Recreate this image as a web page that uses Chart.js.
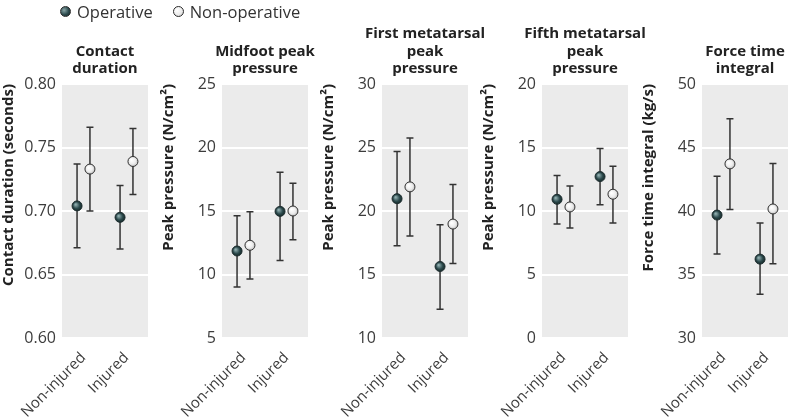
<!DOCTYPE html>
<html>
<head>
<meta charset="utf-8">
<script src="https://cdn.jsdelivr.net/npm/chart.js@4.4.1/dist/chart.umd.min.js"></script>
<style>
  body { margin: 0; background: #fff; width: 790px; height: 418px; overflow: hidden; position: relative; font-family: "Open Sans", sans-serif; }
  .panel { position: absolute; top: 0; width: 180px; height: 418px; }
  #legend { position: absolute; top: 0; left: 60px; font-size: 16.5px; color: #333; line-height: 24px; z-index: 2; }
  #legend span.item { margin-right: 20px; }
  .dot { display: inline-block; width: 9px; height: 9px; border-radius: 50%; border: 1px solid #2a2a2a; margin-right: 6px; vertical-align: 1px; }
  .op { background: radial-gradient(circle at 35% 35%, #8aa6a7, #2c4a4d 55%, #14272a); }
  .nonop { background: radial-gradient(circle at 35% 35%, #ffffff, #ececec 55%, #bdbdbd); }
</style>
</head>
<body>
<div id="legend"><span class="item"><span class="dot op"></span>Operative</span><span class="item"><span class="dot nonop"></span>Non-operative</span></div>
<div class="panel" style="left:0px"><canvas id="c0" width="180" height="418"></canvas></div>
<div class="panel" style="left:160px"><canvas id="c1" width="180" height="418"></canvas></div>
<div class="panel" style="left:320px"><canvas id="c2" width="180" height="418"></canvas></div>
<div class="panel" style="left:480px"><canvas id="c3" width="180" height="418"></canvas></div>
<div class="panel" style="left:640px"><canvas id="c4" width="180" height="418"></canvas></div>
<script>
const categories = ["Non-injured", "Injured"];
const panelTitles = [
  ["Contact", "duration"],
  ["Midfoot peak", "pressure"],
  ["First metatarsal", "peak", "pressure"],
  ["Fifth metatarsal", "peak", "pressure"],
  ["Force time", "integral"]
];
const yTitles = ["Contact duration (seconds)", "Peak pressure (N/cm²)", "Peak pressure (N/cm²)", "Peak pressure (N/cm²)", "Force time integral (kg/s)"];
const yMin = [0.6, 5, 10, 0, 30];
const yMax = [0.8, 25, 30, 20, 50];
const yStep = [0.05, 5, 5, 5, 5];

// values per panel: [Non-injured, Injured]
const opMean = [[0.704, 0.695], [11.85, 14.97], [20.97, 15.63], [10.92, 12.71], [39.68, 36.21]];
const opLow = [[0.671, 0.670], [9.02, 11.1], [17.26, 12.26], [8.97, 10.5], [36.61, 33.44]];
const opHigh = [[0.737, 0.720], [14.63, 18.05], [24.68, 18.92], [12.79, 14.92], [42.74, 39.05]];
const nonMean = [[0.733, 0.739], [12.3, 15.0], [21.9, 18.97], [10.32, 11.32], [43.71, 40.16]];
const nonLow = [[0.700, 0.713], [9.65, 12.74], [18.03, 15.87], [8.66, 9.05], [40.11, 35.85]];
const nonHigh = [[0.766, 0.765], [14.95, 17.18], [25.74, 22.08], [11.97, 13.53], [47.26, 43.74]];

const dodge = 0.3;

function ballColor(c, light, mid, dark) {
  const chart = c.chart;
  if (!c.raw || !chart.scales.x) return mid;
  const px = chart.scales.x.getPixelForValue(c.raw.x);
  const py = chart.scales.y.getPixelForValue(c.raw.y);
  if (!isFinite(px) || !isFinite(py)) return mid;
  const g = chart.ctx.createRadialGradient(px - 1.5, py - 1.5, 0.5, px, py, 5.5);
  g.addColorStop(0, light);
  g.addColorStop(0.55, mid);
  g.addColorStop(1, dark);
  return g;
}

const panelBg = {
  id: 'panelBg',
  beforeDraw(chart) {
    const a = chart.chartArea;
    const ctx = chart.ctx;
    ctx.save();
    ctx.fillStyle = '#ebebeb';
    ctx.fillRect(a.left, a.top, a.right - a.left, a.bottom - a.top);
    ctx.restore();
  }
};

const errorBars = {
  id: 'errorBars',
  beforeDatasetsDraw(chart) {
    const ctx = chart.ctx;
    const x = chart.scales.x, y = chart.scales.y;
    ctx.save();
    ctx.strokeStyle = '#333';
    ctx.lineWidth = 1.5;
    chart.data.datasets.forEach(ds => {
      ds.data.forEach(d => {
        const px = x.getPixelForValue(d.x);
        const lo = y.getPixelForValue(d.low);
        const hi = y.getPixelForValue(d.high);
        ctx.beginPath();
        ctx.moveTo(px, lo); ctx.lineTo(px, hi);
        ctx.moveTo(px - 3.5, lo); ctx.lineTo(px + 3.5, lo);
        ctx.moveTo(px - 3.5, hi); ctx.lineTo(px + 3.5, hi);
        ctx.stroke();
      });
    });
    ctx.restore();
  }
};

const panelTitle = {
  id: 'panelTitle',
  afterDraw(chart, args, opts) {
    const ctx = chart.ctx;
    const a = chart.chartArea;
    const cx = (a.left + a.right) / 2;
    const lines = opts.lines || [];
    ctx.save();
    ctx.font = 'bold 15px "Open Sans", sans-serif';
    ctx.fillStyle = '#222';
    ctx.textAlign = 'center';
    ctx.textBaseline = 'alphabetic';
    lines.forEach((t, i) => {
      ctx.fillText(t, cx, 73 - (lines.length - 1 - i) * 17.5);
    });
    ctx.restore();
  }
};

for (let p = 0; p < 5; p++) {
  const opData = categories.map((c, i) => ({ x: 2 * i + 1 - dodge, y: opMean[p][i], low: opLow[p][i], high: opHigh[p][i] }));
  const nonData = categories.map((c, i) => ({ x: 2 * i + 1 + dodge, y: nonMean[p][i], low: nonLow[p][i], high: nonHigh[p][i] }));

  new Chart(document.getElementById('c' + p).getContext('2d'), {
    type: 'scatter',
    data: {
      datasets: [
        {
          label: 'Operative',
          data: opData,
          pointRadius: 5,
          pointBorderWidth: 1,
          borderColor: '#1e2e30',
          backgroundColor: c => ballColor(c, '#8fadae', '#2d4b4e', '#10211f')
        },
        {
          label: 'Non-operative',
          data: nonData,
          pointRadius: 5,
          pointBorderWidth: 1,
          borderColor: '#333',
          backgroundColor: c => ballColor(c, '#ffffff', '#ededed', '#b8b8b8')
        }
      ]
    },
    options: {
      responsive: false,
      animation: false,
      layout: { padding: { top: 84, right: 32, left: 0, bottom: 0 } },
      plugins: {
        legend: { display: false },
        tooltip: { enabled: false },
        panelTitle: { lines: panelTitles[p] }
      },
      scales: {
        x: {
          type: 'linear',
          min: 0,
          max: 4,
          afterBuildTicks: s => { s.ticks = [{ value: 1 }, { value: 3 }]; },
          afterFit: s => { s.height = 80; },
          grid: { display: false },
          border: { display: false },
          ticks: {
            minRotation: 45,
            maxRotation: 45,
            padding: 3,
            color: '#3c3c3c',
            font: { family: '"Open Sans", sans-serif', size: 15 },
            callback: v => categories[(v - 1) / 2]
          }
        },
        y: {
          min: yMin[p],
          max: yMax[p],
          afterFit: s => { s.width = 62; },
          grid: { color: '#ffffff', lineWidth: 2, drawTicks: false },
          border: { display: false },
          ticks: {
            stepSize: yStep[p],
            padding: 6,
            color: '#3c3c3c',
            font: { family: '"Open Sans", sans-serif', size: 16 },
            callback: v => p === 0 ? v.toFixed(2) : v
          },
          title: {
            display: true,
            align: 'end',
            text: yTitles[p],
            color: '#222',
            padding: 0,
            font: { family: '"Open Sans", sans-serif', size: 15, weight: 'bold' }
          }
        }
      }
    },
    plugins: [panelBg, errorBars, panelTitle]
  });
}
</script>
</body>
</html>
